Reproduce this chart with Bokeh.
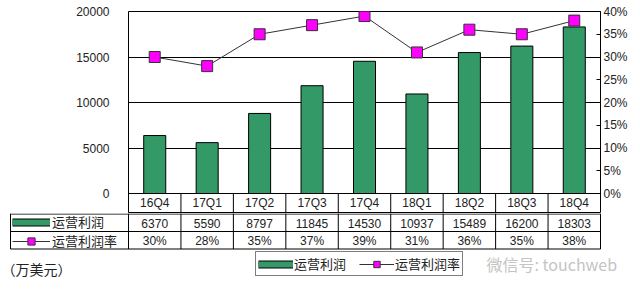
from bokeh.plotting import figure
from bokeh.models import (Range1d, FactorRange, LinearAxis, SingleIntervalTicker,
                          PrintfTickFormatter, Legend, LegendItem)
from bokeh.layouts import column
from bokeh.embed import file_html
from bokeh.resources import INLINE
from bokeh.core.properties import value

# ---------------- data ----------------
quarters = ["16Q4", "17Q1", "17Q2", "17Q3", "17Q4", "18Q1", "18Q2", "18Q3", "18Q4"]
op_profit = [6370, 5590, 8797, 11845, 14530, 10937, 15489, 16200, 18303]
op_margin = [30, 28, 35, 37, 39, 31, 36, 35, 38]
series_names = ["运营利润", "运营利润率"]
unit_label = "（万美元）"
watermark = "微信号: touchweb"

# ---------------- style / layout ----------------
GREEN = "#339966"
MAGENTA = "#ff00ff"
TXT = "#222222"
NUM_FONT = value("Liberation Sans")
CJK = "Noto Sans CJK SC"
CJK_FONT = value(CJK)

W, H = 640, 291
FL, FR = 128, 600          # frame left / right (px)
TOP_H = 213
FT, F0, FB = 11, 193, 212  # frame top, zero line, frame bottom (px)
Y_MAX, P_MAX = 20000, 40
y_per_px = Y_MAX / (F0 - FT)
p_per_px = P_MAX / (F0 - FT)
n = len(quarters)

# ---------------- main chart ----------------
p = figure(width=W, height=TOP_H,
           x_range=FactorRange(factors=quarters),
           y_range=Range1d(-(FB - F0) * y_per_px, Y_MAX),
           x_axis_location=None, toolbar_location=None, output_backend="svg",
           min_border_left=FL, min_border_right=W - FR,
           min_border_top=FT, min_border_bottom=TOP_H - FB)
p.frame_align = False
p.background_fill_color = "white"
p.border_fill_color = "white"
p.outline_line_color = "black"
p.outline_line_alpha = 1.0
p.xgrid.visible = False

p.yaxis.ticker = SingleIntervalTicker(interval=5000, num_minor_ticks=0)
p.yaxis.bounds = (0, Y_MAX)
p.yaxis.axis_line_color = None
p.yaxis.major_tick_line_color = None
p.yaxis.minor_tick_line_color = None
p.yaxis.major_label_standoff = 13
p.yaxis.major_label_text_font = "Liberation Sans"
p.yaxis.major_label_text_font_size = "12px"
p.yaxis.major_label_text_color = TXT
p.ygrid.grid_line_color = "black"
p.ygrid.grid_line_alpha = 1.0

p.extra_y_ranges = {"pct": Range1d(-(FB - F0) * p_per_px, P_MAX)}
rax = LinearAxis(y_range_name="pct",
                 ticker=SingleIntervalTicker(interval=5, num_minor_ticks=0),
                 formatter=PrintfTickFormatter(format="%d%%"), bounds=(0, P_MAX))
rax.axis_line_color = None
rax.major_tick_in = 4
rax.major_tick_out = 0
rax.major_tick_line_color = "black"
rax.minor_tick_line_color = None
rax.major_label_standoff = 3
rax.major_label_text_font = "Liberation Sans"
rax.major_label_text_font_size = "12px"
rax.major_label_text_color = TXT
p.add_layout(rax, "right")

p.vbar(x=quarters, top=op_profit, width=0.42, fill_color=GREEN,
       line_color="black", line_width=1)
p.line(x=quarters, y=op_margin, y_range_name="pct", line_color="#333333", line_width=1)
p.scatter(x=quarters, y=op_margin, y_range_name="pct", marker="square", size=11,
          fill_color=MAGENTA, line_color="#333333", line_width=1)

# table row 1 (category labels) inside the frame, below the zero line
row1_y = -((F0 + FB) / 2 - F0) * y_per_px
seps = list(range(1, n))
p.segment(x0=seps, y0=[0] * len(seps), x1=seps, y1=[p.y_range.start] * len(seps),
          line_color="black", line_width=1)
p.text(x=quarters, y=[row1_y] * n, text=quarters, text_align="center",
       text_baseline="middle", text_font=NUM_FONT, text_font_size="12px", text_color=TXT)

# ---------------- table rows 2-3, unit, legend ----------------
BOT_H = H - TOP_H
band = (FR - FL) / n
px2x = lambda px: (px - FL) / band
q = figure(width=W, height=BOT_H,
           x_range=Range1d(-FL / band, n + (W - FR) / band),
           y_range=Range1d(BOT_H, 0),
           x_axis_location=None, y_axis_location=None,
           toolbar_location=None, output_backend="svg", min_border=0)
q.frame_align = False
q.grid.visible = False
q.outline_line_color = None
q.background_fill_color = "white"
q.border_fill_color = "white"

xs = [i + 0.5 for i in range(n)]
TL = px2x(10)
row_lines = [0.5, 18, 35.5]
q.segment(x0=[TL] * 3, y0=row_lines, x1=[n] * 3, y1=row_lines, line_color="black")
vx = [TL] + list(range(n + 1))
q.segment(x0=vx, y0=[0] * len(vx), x1=vx, y1=[35.5] * len(vx), line_color="black")

q.text(x=xs, y=[9.5] * n, text=[str(v) for v in op_profit], text_align="center",
       text_baseline="middle", text_font=NUM_FONT, text_font_size="12px", text_color=TXT)
q.text(x=xs, y=[27] * n, text=[f"{v}%" for v in op_margin], text_align="center",
       text_baseline="middle", text_font=NUM_FONT, text_font_size="12px", text_color=TXT)

q.text(x=[px2x(1)], y=[55], text=[unit_label], text_align="left", text_baseline="middle",
       text_font=CJK_FONT, text_font_size="14px", text_color=TXT)
q.text(x=[px2x(486)], y=[50], text=[watermark], text_align="left", text_baseline="middle",
       text_font=CJK_FONT, text_font_size="16px", text_color="#c4c4c4")

# legend keys (renderers with no visible data)
nan = float("nan")
k_bar_edge = q.line(x=[nan], y=[nan], line_color="black", line_width=8)
k_bar_fill = q.line(x=[nan], y=[nan], line_color=GREEN, line_width=6)
k_line = q.line(x=[nan], y=[nan], line_color="#333333", line_width=1)
k_pt = q.scatter(x=[nan], y=[nan], marker="square", fill_color=MAGENTA, line_color="#333333")


def make_items():
    return [LegendItem(label=series_names[0], renderers=[k_bar_edge, k_bar_fill]),
            LegendItem(label=series_names[1], renderers=[k_line, k_pt])]


leg_tab = Legend(items=make_items(), orientation="vertical", location=(12, BOT_H - 37),
                 glyph_width=38, glyph_height=18, label_height=18, spacing=0,
                 padding=0, margin=0, label_standoff=2,
                 border_line_color=None, background_fill_alpha=0,
                 label_text_font=CJK, label_text_font_size="13px",
                 label_text_color=TXT)
q.add_layout(leg_tab)

leg_bot = Legend(items=make_items(), orientation="horizontal", location=(255, BOT_H - 63),
                 glyph_width=35, glyph_height=16, label_height=16, spacing=13,
                 padding=2, margin=0, label_standoff=1,
                 border_line_color="black", border_line_width=1,
                 background_fill_color="white", background_fill_alpha=1,
                 label_text_font=CJK, label_text_font_size="13px",
                 label_text_color=TXT)
q.add_layout(leg_bot)

layout = column(p, q, spacing=0)
open("out.html", "w").write(file_html(layout, INLINE))
